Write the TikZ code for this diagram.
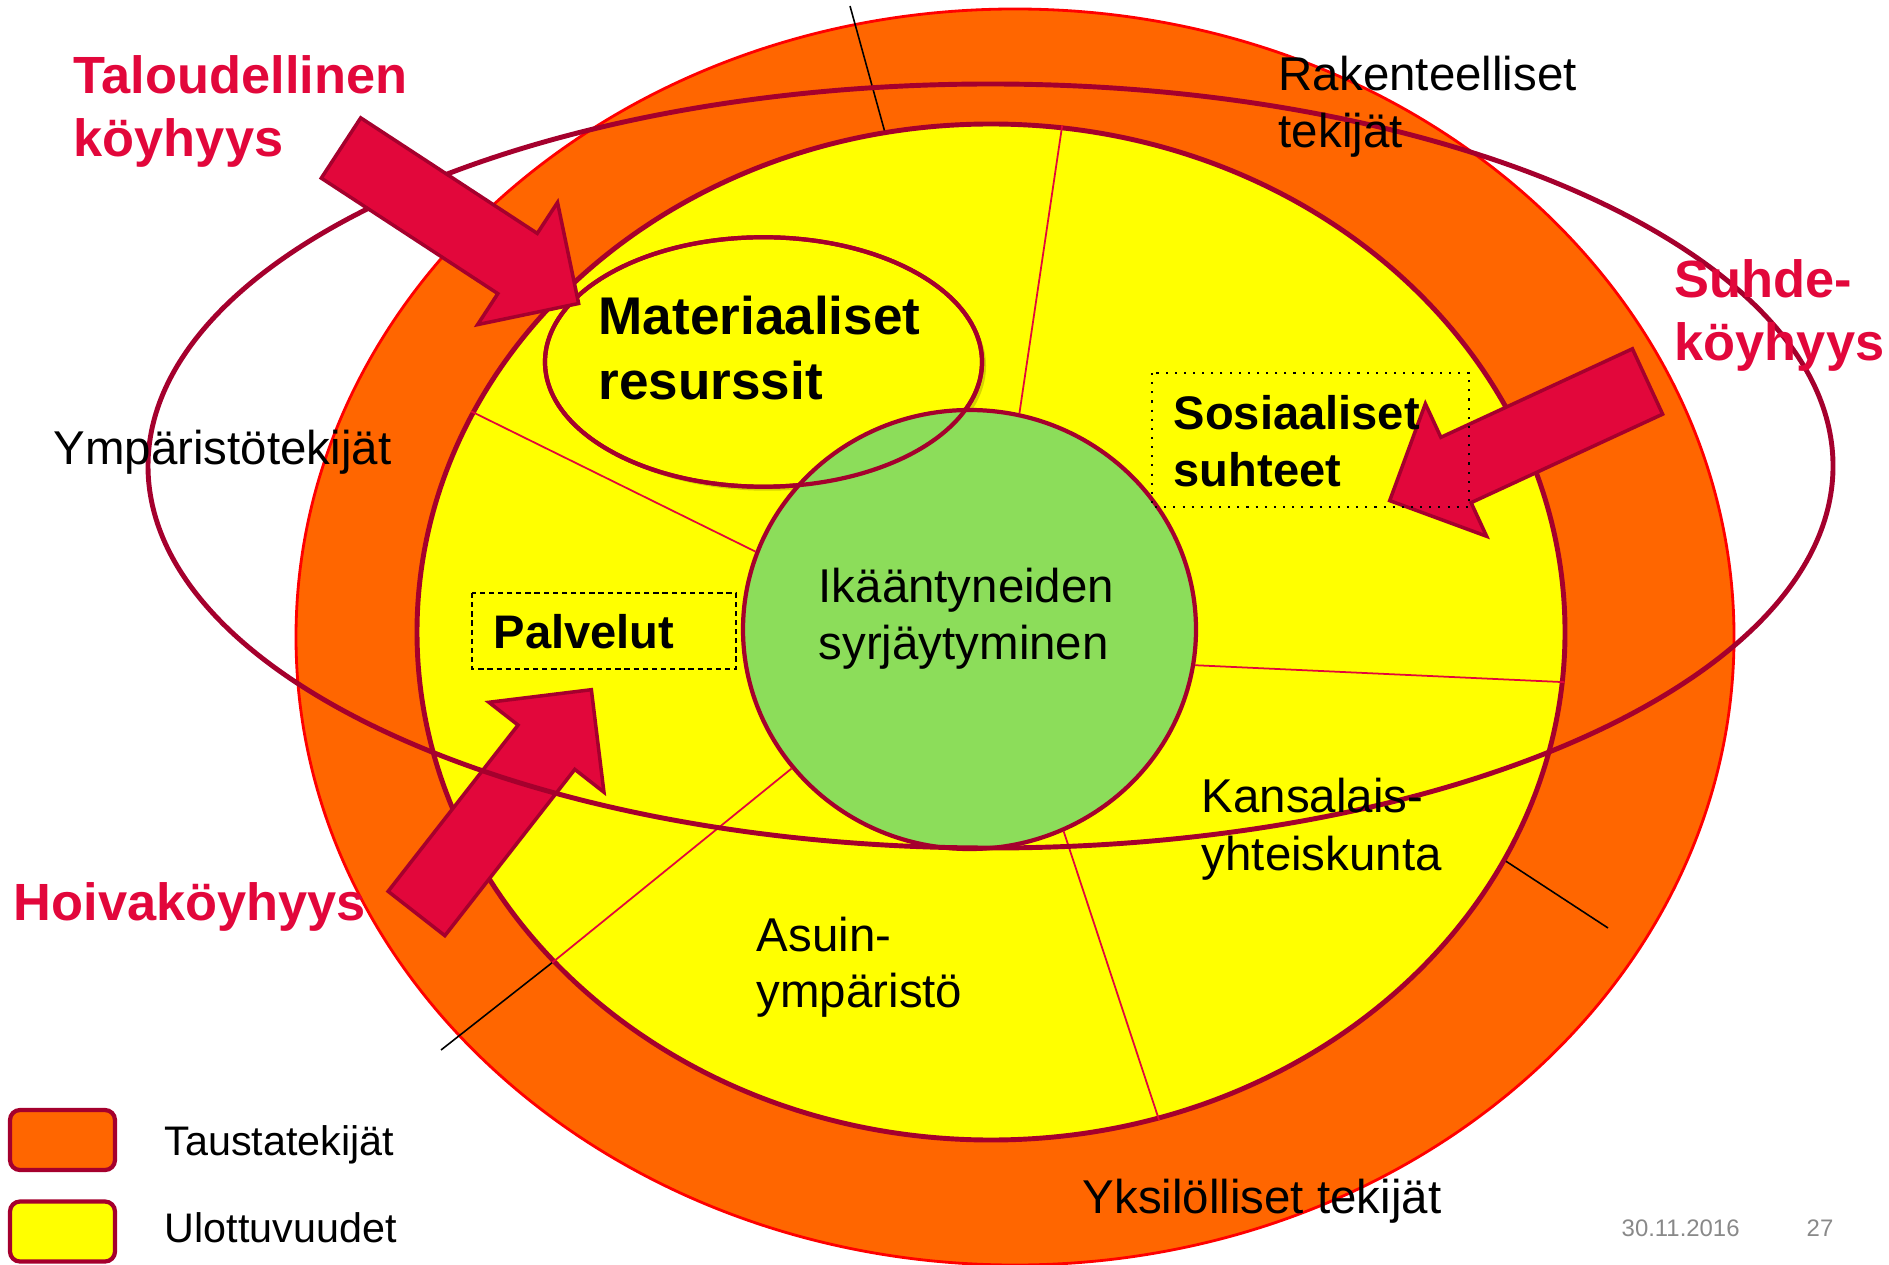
\documentclass[tikz,border=0pt]{standalone}
\usepackage{fontspec}
\setmainfont{Liberation Sans}
\usetikzlibrary{shapes.geometric,shadows}

\definecolor{oranssi}{RGB}{255,102,0}
\definecolor{keltainen}{RGB}{255,255,0}
\definecolor{vihrea}{RGB}{140,221,90}
\definecolor{tummapun}{RGB}{165,0,45}
\definecolor{karmiini}{RGB}{226,7,59}
\definecolor{harmaa}{RGB}{137,137,137}

\begin{document}
\begin{tikzpicture}
    \tikzstyle{ring} = [ellipse, draw=tummapun, line width=1.4pt,
    inner sep=0pt];
    \tikzstyle{jako} = [karmiini, line width=0.5pt];
    \tikzstyle{musta} = [black, line width=0.45pt];
    \tikzstyle{nuoli} = [fill=karmiini, draw=tummapun, line width=1pt,
    line join=miter];
    \tikzstyle{iso} = [font=\fontsize{14.9}{18.1}\selectfont\bfseries,
    text=karmiini, align=left, anchor=base west, inner sep=0pt];
    \tikzstyle{teksti} = [font=\fontsize{13.5}{16.4}\selectfont,
    align=left, anchor=base west, inner sep=0pt];
    \tikzstyle{lihava} = [font=\fontsize{13.4}{16.5}\selectfont\bfseries,
    align=left, anchor=base west, inner sep=0pt];
    \tikzstyle{selite} = [rectangle, rounded corners=0.1cm, draw=tummapun,
    line width=1.2pt, minimum width=1.05cm, minimum height=0.6cm];

    \useasboundingbox (0,0) rectangle (18.89,12.64);

    % renkaat
    \node[ring, draw=red, line width=0.8pt, fill=oranssi,
          minimum width=14.38cm, minimum height=12.56cm] (tausta) at (10.15,6.27){};
    \node[ring, fill=keltainen,
          minimum width=11.48cm, minimum height=10.16cm] (ulot) at (9.91,6.32){};
    \node[ring, line width=1.2pt, fill=keltainen,
          drop shadow={shadow xshift=0.4mm, shadow yshift=-0.4mm,
                       fill=olive, opacity=0.35},
          minimum width=4.37cm, minimum height=2.495cm] (mat) at (7.635,9.02){};
    \node[ring, line width=1.2pt, fill=vihrea,
          minimum width=4.53cm, minimum height=4.39cm] (ika) at (9.695,6.345){};
    \node[ring, line width=1.2pt,
          minimum width=4.37cm, minimum height=2.495cm] (matreuna) at (mat){};

    % jakoviivat
    \path[jako] (ika.77.5) edge (ulot.82)
                (ika.160.1) edge (ulot.157)
                (ika.-9) edge (ulot.-5.1)
                (ika.218.1) edge (ulot.217.1)
                (ika.-65.8) edge (ulot.-71.4);

    \coordinate (ylos) at (8.50,12.58);
    \coordinate (oik) at (16.08,3.36);
    \coordinate (vas) at (4.41,2.14);
    \path[musta] (ulot.102.6) edge (ylos)
                 (ulot.-24.1) edge (oik)
                 (ulot.217.1) edge (vas);

    % nuolet
    \draw[nuoli, shift={(4.165,3.505)}, rotate=52]
        (0,-0.36) -- (2.11,-0.36) -- (2.11,-0.73) -- (2.84,0)
        -- (2.11,0.73) -- (2.11,0.36) -- (0,0.36) -- cycle;

    \node[ring, minimum width=16.85cm, minimum height=7.64cm] (kehä) at (9.905,7.98){};

    \draw[nuoli, shift={(3.41,11.16)}, rotate=-33.2]
        (0,-0.36) -- (2.11,-0.36) -- (2.11,-0.73) -- (2.84,0)
        -- (2.11,0.73) -- (2.11,0.36) -- (0,0.36) -- cycle;
    \draw[nuoli, shift={(16.475,8.825)}, rotate=204.8]
        (0,-0.36) -- (2.11,-0.36) -- (2.11,-0.73) -- (2.84,0)
        -- (2.11,0.73) -- (2.11,0.36) -- (0,0.36) -- cycle;

    % laatikot
    \draw[black, line width=0.6pt, dotted] (11.52,8.91) rectangle (14.69,7.57);
    \draw[black, line width=0.6pt, dash pattern=on 1.5pt off 1.1pt]
        (4.72,6.71) rectangle (7.36,5.95);

    % tekstit (base = viimeisen rivin perusviiva)
    \node[iso] (talous) at (0.73,11.07){Taloudellinen\\köyhyys};
    \node[iso] (suhde) at (16.74,9.03){Suhde-\\köyhyys};
    \node[iso] (hoiva) at (0.13,3.44){Hoivaköyhyys};

    \node[teksti] (rak) at (12.78,11.16){Rakenteelliset\\tekijät};
    \node[teksti] (ymp) at (0.53,7.99){Ympäristötekijät};
    \node[teksti] (yks) at (10.82,0.51){Yksilölliset tekijät};
    \node[teksti] (kans) at (12.01,3.94){Kansalais-\\yhteiskunta};
    \node[teksti, font=\fontsize{13.5}{15.7}\selectfont] (asuin) at (7.56,2.57){Asuin-\\ympäristö};
    \node[teksti] (syrj) at (8.18,6.04){Ikääntyneiden\\syrjäytyminen};

    \node[lihava, font=\fontsize{15.1}{18.5}\selectfont\bfseries] (matt) at (5.98,8.64){Materiaaliset\\resurssit};
    \node[lihava] (sos) at (11.73,7.77){Sosiaaliset\\suhteet};
    \node[lihava] (palv) at (4.93,6.16){Palvelut};

    % selitteet
    \node[selite, fill=oranssi] (selo) at (0.625,1.24){};
    \node[selite, fill=keltainen] (sely) at (0.625,0.325){};
    \node[teksti, font=\fontsize{11.75}{14}\selectfont] (selot) at (1.64,1.09){Taustatekijät};
    \node[teksti, font=\fontsize{11.75}{14}\selectfont] (selyt) at (1.64,0.22){Ulottuvuudet};

    \node[teksti, font=\fontsize{6.8}{8}\selectfont, text=harmaa] (pvm) at (16.21,0.28){30.11.2016};
    \node[teksti, font=\fontsize{6.8}{8}\selectfont, text=harmaa] (sivu) at (18.06,0.28){27};

\end{tikzpicture}
\end{document}
